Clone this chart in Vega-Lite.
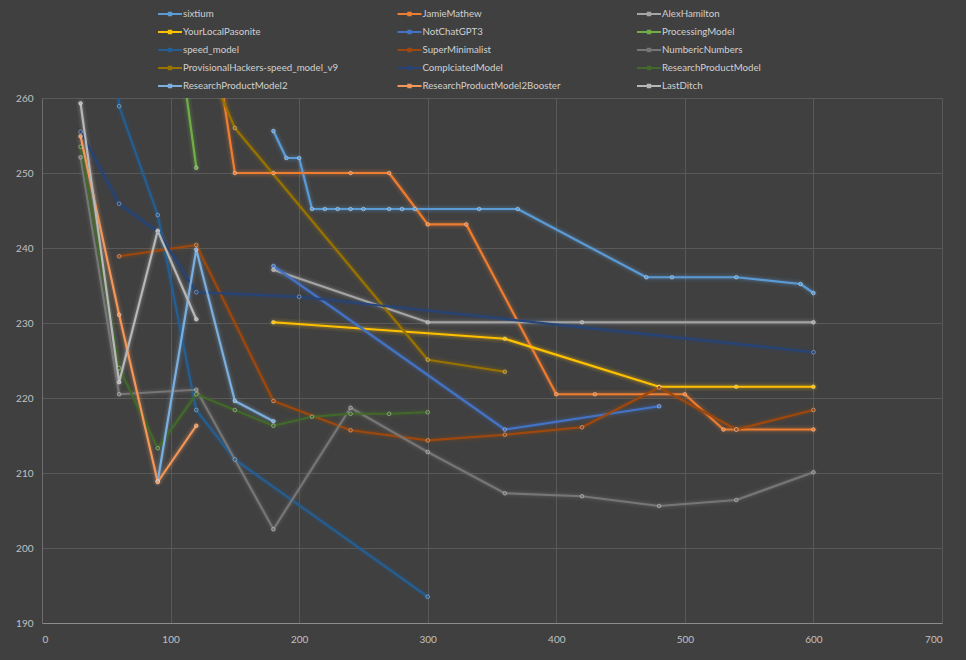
{
  "$schema": "https://vega.github.io/schema/vega-lite/v6.json",
  "width": 900,
  "height": 525,
  "autosize": {"type": "none"},
  "padding": {"left": 42, "top": 98, "right": 24, "bottom": 37},
  "background": "#404040",
  "config": {
    "view": {"stroke": null},
    "font": "Lato",
    "axis": {
      "title": null,
      "ticks": false,
      "tickSize": 0,
      "gridColor": "#595959",
      "gridWidth": 1,
      "labelColor": "#c0c0c0",
      "labelFontSize": 10,
      "labelFont": "Lato"
    }
  },
  "data": {
    "values": [
      {"s": "sixtium", "x": 180, "y": 255.6},
      {"s": "sixtium", "x": 190, "y": 252.0},
      {"s": "sixtium", "x": 200, "y": 252.0},
      {"s": "sixtium", "x": 210, "y": 245.2},
      {"s": "sixtium", "x": 220, "y": 245.2},
      {"s": "sixtium", "x": 230, "y": 245.2},
      {"s": "sixtium", "x": 240, "y": 245.2},
      {"s": "sixtium", "x": 250, "y": 245.2},
      {"s": "sixtium", "x": 270, "y": 245.2},
      {"s": "sixtium", "x": 280, "y": 245.2},
      {"s": "sixtium", "x": 290, "y": 245.2},
      {"s": "sixtium", "x": 340, "y": 245.2},
      {"s": "sixtium", "x": 370, "y": 245.2},
      {"s": "sixtium", "x": 470, "y": 236.1},
      {"s": "sixtium", "x": 490, "y": 236.1},
      {"s": "sixtium", "x": 540, "y": 236.1},
      {"s": "sixtium", "x": 590, "y": 235.2},
      {"s": "sixtium", "x": 600, "y": 234.0},
      {"s": "JamieMathew", "x": 120, "y": 284.0},
      {"s": "JamieMathew", "x": 150, "y": 250.0},
      {"s": "JamieMathew", "x": 180, "y": 250.0},
      {"s": "JamieMathew", "x": 240, "y": 250.0},
      {"s": "JamieMathew", "x": 270, "y": 250.0},
      {"s": "JamieMathew", "x": 300, "y": 243.15},
      {"s": "JamieMathew", "x": 330, "y": 243.15},
      {"s": "JamieMathew", "x": 400, "y": 220.5},
      {"s": "JamieMathew", "x": 430, "y": 220.5},
      {"s": "JamieMathew", "x": 500, "y": 220.5},
      {"s": "JamieMathew", "x": 530, "y": 215.8},
      {"s": "JamieMathew", "x": 540, "y": 215.8},
      {"s": "JamieMathew", "x": 600, "y": 215.8},
      {"s": "AlexHamilton", "x": 180, "y": 237.1},
      {"s": "AlexHamilton", "x": 300, "y": 230.1},
      {"s": "AlexHamilton", "x": 420, "y": 230.1},
      {"s": "AlexHamilton", "x": 600, "y": 230.1},
      {"s": "YourLocalPasonite", "x": 180, "y": 230.1},
      {"s": "YourLocalPasonite", "x": 360, "y": 227.9},
      {"s": "YourLocalPasonite", "x": 480, "y": 221.5},
      {"s": "YourLocalPasonite", "x": 540, "y": 221.5},
      {"s": "YourLocalPasonite", "x": 600, "y": 221.5},
      {"s": "NotChatGPT3", "x": 180, "y": 237.6},
      {"s": "NotChatGPT3", "x": 360, "y": 215.8},
      {"s": "NotChatGPT3", "x": 480, "y": 218.9},
      {"s": "ProcessingModel", "x": 90, "y": 288.7},
      {"s": "ProcessingModel", "x": 120, "y": 250.7},
      {"s": "speed_model", "x": 30, "y": 340.0},
      {"s": "speed_model", "x": 60, "y": 258.9},
      {"s": "speed_model", "x": 90, "y": 244.4},
      {"s": "speed_model", "x": 120, "y": 218.4},
      {"s": "speed_model", "x": 150, "y": 211.8},
      {"s": "speed_model", "x": 300, "y": 193.5},
      {"s": "SuperMinimalist", "x": 60, "y": 238.9},
      {"s": "SuperMinimalist", "x": 120, "y": 240.4},
      {"s": "SuperMinimalist", "x": 180, "y": 219.6},
      {"s": "SuperMinimalist", "x": 240, "y": 215.7},
      {"s": "SuperMinimalist", "x": 300, "y": 214.35},
      {"s": "SuperMinimalist", "x": 360, "y": 215.1},
      {"s": "SuperMinimalist", "x": 420, "y": 216.1},
      {"s": "SuperMinimalist", "x": 480, "y": 221.4},
      {"s": "SuperMinimalist", "x": 540, "y": 215.8},
      {"s": "SuperMinimalist", "x": 600, "y": 218.4},
      {"s": "NumbericNumbers", "x": 30, "y": 252.1},
      {"s": "NumbericNumbers", "x": 60, "y": 220.5},
      {"s": "NumbericNumbers", "x": 120, "y": 221.1},
      {"s": "NumbericNumbers", "x": 180, "y": 202.5},
      {"s": "NumbericNumbers", "x": 240, "y": 218.7},
      {"s": "NumbericNumbers", "x": 300, "y": 212.8},
      {"s": "NumbericNumbers", "x": 360, "y": 207.3},
      {"s": "NumbericNumbers", "x": 420, "y": 206.9},
      {"s": "NumbericNumbers", "x": 480, "y": 205.6},
      {"s": "NumbericNumbers", "x": 540, "y": 206.4},
      {"s": "NumbericNumbers", "x": 600, "y": 210.1},
      {"s": "ProvisionalHackers-speed_model_v9", "x": 120, "y": 268.0},
      {"s": "ProvisionalHackers-speed_model_v9", "x": 150, "y": 256.0},
      {"s": "ProvisionalHackers-speed_model_v9", "x": 300, "y": 225.1},
      {"s": "ProvisionalHackers-speed_model_v9", "x": 360, "y": 223.5},
      {"s": "ComplciatedModel", "x": 30, "y": 255.5},
      {"s": "ComplciatedModel", "x": 60, "y": 245.9},
      {"s": "ComplciatedModel", "x": 90, "y": 242.2},
      {"s": "ComplciatedModel", "x": 120, "y": 234.1},
      {"s": "ComplciatedModel", "x": 200, "y": 233.5},
      {"s": "ComplciatedModel", "x": 600, "y": 226.1},
      {"s": "ResearchProductModel", "x": 30, "y": 253.5},
      {"s": "ResearchProductModel", "x": 60, "y": 224.0},
      {"s": "ResearchProductModel", "x": 90, "y": 213.3},
      {"s": "ResearchProductModel", "x": 120, "y": 220.5},
      {"s": "ResearchProductModel", "x": 150, "y": 218.4},
      {"s": "ResearchProductModel", "x": 180, "y": 216.3},
      {"s": "ResearchProductModel", "x": 210, "y": 217.5},
      {"s": "ResearchProductModel", "x": 240, "y": 217.9},
      {"s": "ResearchProductModel", "x": 270, "y": 217.9},
      {"s": "ResearchProductModel", "x": 300, "y": 218.1},
      {"s": "ResearchProductModel2", "x": 90, "y": 208.9},
      {"s": "ResearchProductModel2", "x": 120, "y": 239.8},
      {"s": "ResearchProductModel2", "x": 150, "y": 219.6},
      {"s": "ResearchProductModel2", "x": 180, "y": 216.9},
      {"s": "ResearchProductModel2Booster", "x": 30, "y": 254.9},
      {"s": "ResearchProductModel2Booster", "x": 60, "y": 231.1},
      {"s": "ResearchProductModel2Booster", "x": 90, "y": 208.8},
      {"s": "ResearchProductModel2Booster", "x": 120, "y": 216.3},
      {"s": "LastDitch", "x": 30, "y": 259.3},
      {"s": "LastDitch", "x": 60, "y": 222.1},
      {"s": "LastDitch", "x": 90, "y": 242.3},
      {"s": "LastDitch", "x": 120, "y": 230.5}
    ]
  },
  "encoding": {
    "x": {
      "field": "x", "type": "quantitative",
      "scale": {"domain": [0, 700], "nice": false, "zero": false},
      "axis": {"values": [0, 100, 200, 300, 400, 500, 600, 700], "domainColor": "#8c8c8c", "labelPadding": 11}
    },
    "y": {
      "field": "y", "type": "quantitative",
      "scale": {"domain": [190, 260], "nice": false, "zero": false},
      "axis": {"values": [190, 200, 210, 220, 230, 240, 250, 260], "domainColor": "#6e6e6e", "labelPadding": 9}
    },
    "color": {
      "field": "s", "type": "nominal",
      "scale": {
        "domain": ["sixtium", "YourLocalPasonite", "speed_model", "ProvisionalHackers-speed_model_v9", "ResearchProductModel2", "JamieMathew", "NotChatGPT3", "SuperMinimalist", "ComplciatedModel", "ResearchProductModel2Booster", "AlexHamilton", "ProcessingModel", "NumbericNumbers", "ResearchProductModel", "LastDitch"],
        "range": ["#5B9BD5", "#FFC000", "#255E91", "#997300", "#7CAFDD", "#ED7D31", "#4472C4", "#9E480E", "#264478", "#F1975A", "#A5A5A5", "#70AD47", "#767676", "#43682B", "#B7B7B7"]
      },
      "legend": {
        "title": null,
        "orient": "none",
        "legendX": 115,
        "legendY": -92,
        "columns": 3,
        "gridAlign": "all",
        "columnPadding": 58.5,
        "rowPadding": 2,
        "clipHeight": 16,
        "symbolType": "M-1,0H1M-0.1,-0.1H0.1V0.1H-0.1Z",
        "symbolSize": 576,
        "symbolStrokeWidth": 2,
        "symbolOpacity": 1,
        "labelFont": "Lato",
        "labelFontSize": 9.7,
        "labelColor": "#d0d0d0",
        "labelLimit": 300,
        "labelOffset": 0
      }
    }
  },
  "layer": [
    {
      "mark": {"type": "line", "clip": true, "strokeWidth": 9, "opacity": 0.08, "strokeCap": "round", "strokeJoin": "round"}
    },
    {
      "mark": {"type": "line", "clip": true, "strokeWidth": 5, "opacity": 0.16, "strokeCap": "round", "strokeJoin": "round"}
    },
    {
      "mark": {"type": "line", "clip": true, "strokeWidth": 2.2, "strokeJoin": "round"}
    },
    {
      "mark": {"type": "point", "clip": true, "filled": true, "size": 14, "opacity": 1, "stroke": "#ffffff", "strokeOpacity": 0.45, "strokeWidth": 0.8}
    }
  ]
}
